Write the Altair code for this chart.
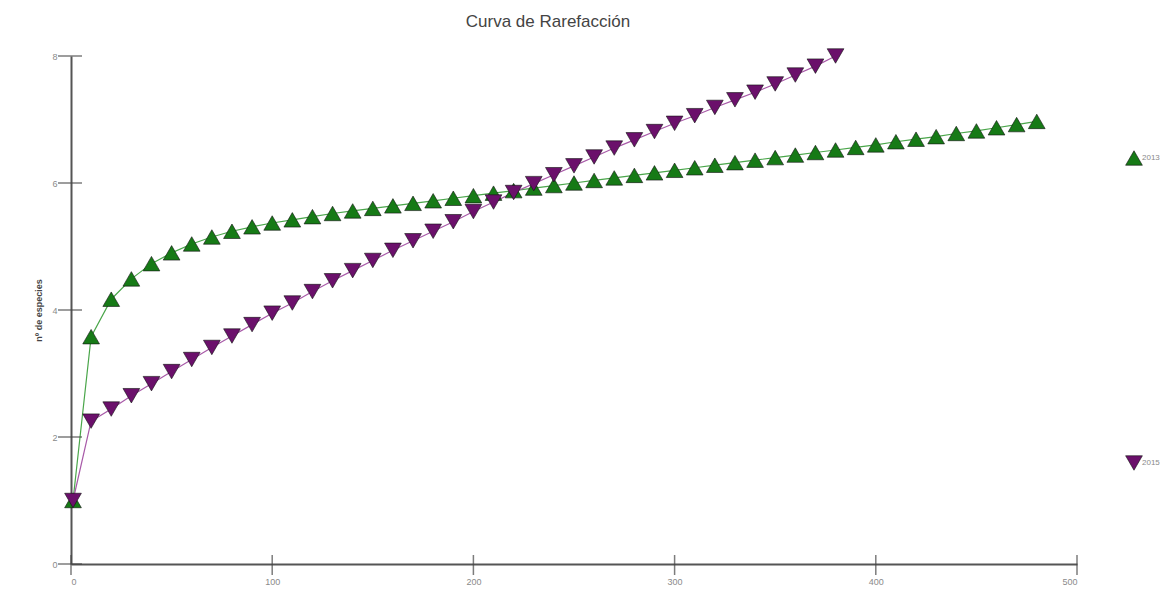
import altair as alt
import pandas as pd

# ---- data ----
series_names = ["2013", "2015"]

x_2013 = [1, 10, 20, 30, 40, 50, 60, 70, 80, 90, 100, 110, 120, 130, 140, 150, 160,
          170, 180, 190, 200, 210, 220, 230, 240, 250, 260, 270, 280, 290, 300, 310,
          320, 330, 340, 350, 360, 370, 380, 390, 400, 410, 420, 430, 440, 450, 460,
          470, 480]
y_2013 = [1.00, 3.58, 4.17, 4.49, 4.73, 4.90, 5.04, 5.15, 5.24, 5.31, 5.37, 5.42, 5.47,
          5.52, 5.56, 5.60, 5.64, 5.68, 5.72, 5.76, 5.80, 5.84, 5.88, 5.92, 5.96, 6.00,
          6.04, 6.08, 6.12, 6.16, 6.20, 6.24, 6.28, 6.32, 6.36, 6.40, 6.44, 6.48, 6.52,
          6.56, 6.60, 6.65, 6.69, 6.73, 6.78, 6.82, 6.87, 6.92, 6.97]

x_2015 = [1, 10, 20, 30, 40, 50, 60, 70, 80, 90, 100, 110, 120, 130, 140, 150, 160,
          170, 180, 190, 200, 210, 220, 230, 240, 250, 260, 270, 280, 290, 300, 310,
          320, 330, 340, 350, 360, 370, 380]
y_2015 = [1.00, 2.25, 2.44, 2.65, 2.84, 3.03, 3.22, 3.41, 3.59, 3.77, 3.95, 4.11, 4.29,
          4.46, 4.62, 4.78, 4.94, 5.09, 5.24, 5.39, 5.55, 5.70, 5.85, 5.99, 6.13, 6.27,
          6.41, 6.55, 6.68, 6.81, 6.94, 7.06, 7.19, 7.31, 7.43, 7.56, 7.70, 7.84, 8.00]

x_ticks = [0, 100, 200, 300, 400, 500]
y_ticks = [0, 2, 4, 6, 8]

fill_colors = ["#167a16", "#6b106b"]
line_colors = ["#4aa64a", "#a85aa8"]
shapes = ["triangle-up", "triangle-down"]

serie_col = [series_names[0]] * len(x_2013) + [series_names[1]] * len(x_2015)
df = pd.DataFrame({
    "n": x_2013 + x_2015,
    "s": y_2013 + y_2015,
    "serie": serie_col,
    "linea": serie_col,
})
df_xt = pd.DataFrame({"t": x_ticks})
df_yt = pd.DataFrame({"t": y_ticks})
df_leg = pd.DataFrame({"serie": series_names})

FONT = "Liberation Sans"
xs = alt.Scale(domain=[0, 500], nice=False, zero=False)
ys = alt.Scale(domain=[0, 8], nice=False, zero=False)
fill_scale = alt.Scale(domain=series_names, range=fill_colors)
shape_scale = alt.Scale(domain=series_names, range=shapes)

x_axis = alt.Axis(values=x_ticks, title=None, grid=False, tickSize=0, labelPadding=13,
                  labelFontSize=9, labelFont=FONT, labelColor="#8a8a8a",
                  domainColor="#555555", domainWidth=2)
y_axis = alt.Axis(values=y_ticks, title="nº de especies", grid=False, tickSize=0,
                  labelPadding=14, labelFontSize=9, labelFont=FONT, labelColor="#8a8a8a",
                  domainColor="#555555", domainWidth=2, titleFont=FONT, titleFontSize=9,
                  titleFontWeight="bold", titleColor="#444444", titlePadding=8)

lines = alt.Chart(df).mark_line(strokeWidth=1.2).encode(
    x=alt.X("n:Q", scale=xs, axis=x_axis),
    y=alt.Y("s:Q", scale=ys, axis=y_axis),
    color=alt.Color("linea:N", scale=alt.Scale(domain=series_names, range=line_colors),
                    legend=None),
)

points = alt.Chart(df).mark_point(filled=True, opacity=1, size=280, stroke="#111111",
                                  strokeWidth=0.6).encode(
    x=alt.X("n:Q", scale=xs, axis=x_axis),
    y=alt.Y("s:Q", scale=ys, axis=y_axis),
    fill=alt.Fill("serie:N", scale=fill_scale, legend=None),
    shape=alt.Shape("serie:N", scale=shape_scale, legend=None),
)

xtick_marks = alt.Chart(df_xt).mark_tick(size=20, thickness=1.5, color="#444444").encode(
    x=alt.X("t:Q", scale=xs, axis=x_axis),
    y=alt.value(509),
)
ytick_marks = alt.Chart(df_yt).mark_tick(size=24, thickness=1.5, color="#444444").encode(
    y=alt.Y("t:Q", scale=ys, axis=y_axis),
    x=alt.value(-1),
)

main = alt.layer(lines, xtick_marks, ytick_marks, points)

# legend drawn on the right, one entry per series, placed by a point scale
leg_y = alt.Y("serie:N", axis=None,
              scale=alt.Scale(type="point", domain=series_names, range=[102, 407],
                              padding=0))
leg_symbols = alt.Chart(df_leg).mark_point(filled=True, opacity=1, size=280,
                                           stroke="#111111", strokeWidth=0.6).encode(
    x=alt.value(1063),
    y=leg_y,
    fill=alt.Fill("serie:N", scale=fill_scale, legend=None),
    shape=alt.Shape("serie:N", scale=shape_scale, legend=None),
)
leg_labels = alt.Chart(df_leg).mark_text(align="left", baseline="middle", font=FONT,
                                         fontSize=8, color="#8a8a8a").encode(
    x=alt.value(1071),
    y=leg_y,
    text="serie:N",
)
legend = alt.layer(leg_symbols, leg_labels)

chart = alt.layer(main, legend).resolve_scale(y="independent").properties(
    width=1006,
    height=508,
    autosize=alt.AutoSizeParams(type="none"),
    padding={"left": 63, "top": 48, "right": 85, "bottom": 21},
    title=alt.TitleParams("Curva de Rarefacción", font=FONT, fontSize=17,
                          fontWeight="normal", color="#444444", offset=17, dx=-26),
).configure_view(stroke=None)

chart.save("out.html", embed_options={"renderer": "svg", "actions": False})
